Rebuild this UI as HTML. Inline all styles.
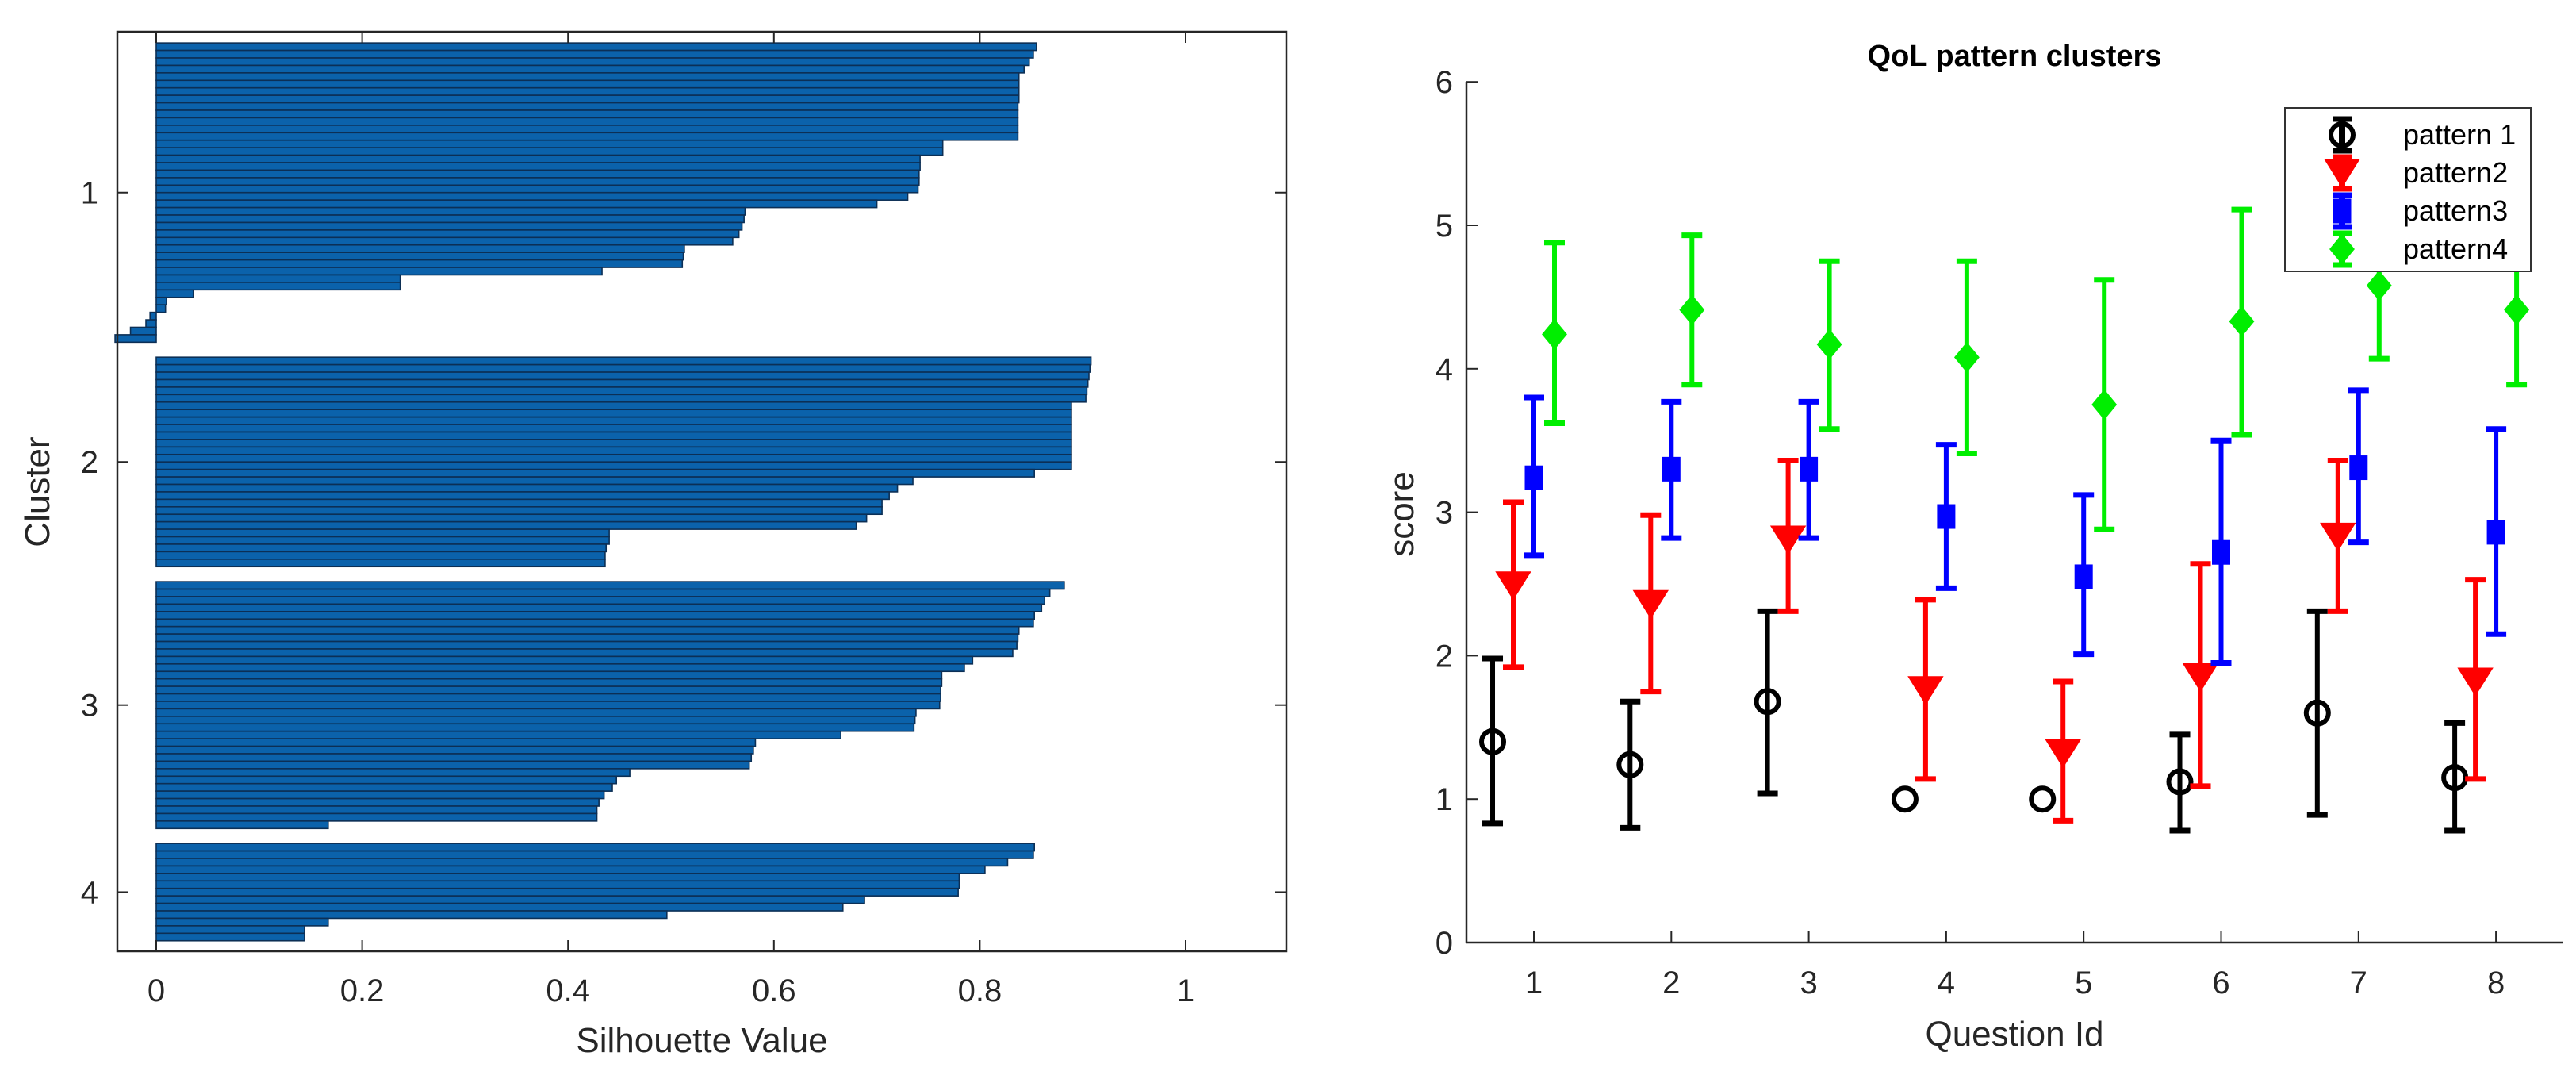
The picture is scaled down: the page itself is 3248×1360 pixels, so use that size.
<!DOCTYPE html>
<html><head><meta charset="utf-8"><style>
html,body{margin:0;padding:0;background:#fff;}
svg{display:block;font-family:"Liberation Sans",Arial,sans-serif;}
</style></head><body>
<svg id="chart" width="3248" height="1360" viewBox="0 0 3248 1360" xmlns="http://www.w3.org/2000/svg">
<g id="left"></g>
<g id="right"></g>
</svg>
<script>
// ---------- Silhouette data ----------
const cluster1 = [0.855,0.852,0.848,0.843,0.838,0.838,0.838,0.838,0.837,0.837,0.837,0.837,0.837,0.764,0.764,0.742,0.742,0.741,0.741,0.740,0.730,0.700,0.572,0.571,0.569,0.566,0.560,0.513,0.512,0.511,0.433,0.237,0.237,0.036,0.010,0.009,-0.006,-0.010,-0.025,-0.040];
const cluster2 = [0.908,0.907,0.906,0.905,0.904,0.903,0.889,0.889,0.889,0.889,0.889,0.889,0.889,0.889,0.889,0.853,0.735,0.720,0.712,0.705,0.705,0.690,0.680,0.440,0.440,0.437,0.436,0.436];
const cluster3 = [0.882,0.868,0.863,0.860,0.853,0.852,0.838,0.837,0.836,0.832,0.793,0.785,0.763,0.763,0.762,0.762,0.761,0.738,0.737,0.736,0.665,0.582,0.580,0.578,0.576,0.460,0.447,0.443,0.435,0.430,0.428,0.428,0.167];
const cluster4 = [0.853,0.852,0.827,0.805,0.780,0.780,0.779,0.688,0.667,0.496,0.167,0.144,0.144];
const clusterLabels = ["1","2","3","4"];
const silXTicks = [0,0.2,0.4,0.6,0.8,1];
const silXTickLabels = ["0","0.2","0.4","0.6","0.8","1"];

// ---------- QoL data ----------
const questions = [1,2,3,4,5,6,7,8];
const p1Mean = [1.40,1.24,1.68,1.00,1.00,1.12,1.60,1.15];
const p1Low  = [0.83,0.80,1.04,1.00,1.00,0.78,0.89,0.78];
const p1High = [1.98,1.68,2.31,1.00,1.00,1.45,2.31,1.53];
const p2Mean = [2.49,2.36,2.81,1.76,1.32,1.85,2.83,1.82];
const p2Low  = [1.92,1.75,2.31,1.14,0.85,1.09,2.31,1.14];
const p2High = [3.07,2.98,3.36,2.39,1.82,2.64,3.36,2.53];
const p3Mean = [3.24,3.30,3.30,2.97,2.55,2.72,3.31,2.86];
const p3Low  = [2.70,2.82,2.82,2.47,2.01,1.95,2.79,2.15];
const p3High = [3.80,3.77,3.77,3.47,3.12,3.50,3.85,3.58];
const p4Mean = [4.24,4.41,4.17,4.08,3.75,4.33,4.58,4.41];
const p4Low  = [3.62,3.89,3.58,3.41,2.88,3.54,4.07,3.89];
const p4High = [4.88,4.93,4.75,4.75,4.62,5.11,5.09,4.93];
const scoreTicks = [0,1,2,3,4,5,6];
const seriesNames = ["pattern 1","pattern2","pattern3","pattern4"];

const NS="http://www.w3.org/2000/svg";
function mk(tag,attrs,parent){const e=document.createElementNS(NS,tag);for(const k in attrs)e.setAttribute(k,attrs[k]);parent.appendChild(e);return e;}

// ===== Left plot =====
const L=document.getElementById('left');
const box={l:148,r:1622,t:40,b:1199};
const sx=v=>197+v*1298;
const pitch=9.43;
const clusters=[cluster1,cluster2,cluster3,cluster4];
let u=1.5;
const centers=[];
clusters.forEach((c,ci)=>{
  const start=u;
  c.forEach((v,i)=>{
    const y=box.t+(u+i)*pitch;
    const x0=Math.min(sx(0),sx(v)), w=Math.abs(sx(v)-sx(0));
    const r=mk('rect',{x:x0,y:y,width:Math.max(w,0.5),height:pitch,fill:'#0b62ab',stroke:'#0c2f55','stroke-width':1.6},L);
    
    
  });
  u+=c.length;
  centers.push(box.t+(start+c.length/2)*pitch);
  u+=2;
});
// box
const fr=mk('rect',{x:box.l,y:box.t,width:box.r-box.l,height:box.b-box.t,fill:'none',stroke:'#262626','stroke-width':2.5},L);

silXTicks.forEach((t,i)=>{
  const x=sx(t);
  mk('line',{x1:x,y1:box.b,x2:x,y2:box.b-14,stroke:'#262626','stroke-width':2},L);
  mk('line',{x1:x,y1:box.t,x2:x,y2:box.t+14,stroke:'#262626','stroke-width':2},L);
  const tx=mk('text',{x:x,y:1262,'text-anchor':'middle','font-size':40,fill:'#262626'},L);
  tx.textContent=silXTickLabels[i];
  
});
centers.forEach((cy,i)=>{
  mk('line',{x1:box.l,y1:cy,x2:box.l+14,y2:cy,stroke:'#262626','stroke-width':2},L);
  mk('line',{x1:box.r,y1:cy,x2:box.r-14,y2:cy,stroke:'#262626','stroke-width':2},L);
  const tx=mk('text',{x:124,y:cy+14,'text-anchor':'end','font-size':40,fill:'#262626'},L);
  tx.textContent=clusterLabels[i];
  
});
const xl=mk('text',{x:885,y:1326,'text-anchor':'middle','font-size':44,fill:'#262626'},L);
xl.textContent='Silhouette Value';
const yl=mk('text',{x:0,y:0,'text-anchor':'middle','font-size':44,fill:'#262626',transform:'translate(62,620) rotate(-90)'},L);
yl.textContent='Cluster';

// ===== Right plot =====
const R=document.getElementById('right');
const ax={l:1849,r:3232,t:103,b:1188};
const qx=v=>1934+(v-1)*173.3;
const qy=v=>1188-v*180.8;
mk('line',{x1:ax.l,y1:ax.t,x2:ax.l,y2:ax.b,stroke:'#262626','stroke-width':2.5},R);
mk('line',{x1:ax.l,y1:ax.b,x2:ax.r,y2:ax.b,stroke:'#262626','stroke-width':2.5},R);
scoreTicks.forEach(t=>{
  const y=qy(t);
  mk('line',{x1:ax.l,y1:y,x2:ax.l+14,y2:y,stroke:'#262626','stroke-width':2},R);
  const tx=mk('text',{x:1832,y:y+14,'text-anchor':'end','font-size':40,fill:'#262626'},R);
  tx.textContent=String(t);
  
});
questions.forEach(q=>{
  const x=qx(q);
  mk('line',{x1:x,y1:ax.b,x2:x,y2:ax.b-14,stroke:'#262626','stroke-width':2},R);
  const tx=mk('text',{x:x,y:1252,'text-anchor':'middle','font-size':40,fill:'#262626'},R);
  tx.textContent=String(q);
  
});
const tt=mk('text',{x:2540,y:83,'text-anchor':'middle','font-size':38,'font-weight':'bold',fill:'#000'},R);
tt.textContent='QoL pattern clusters';
const qxl=mk('text',{x:2540,y:1318,'text-anchor':'middle','font-size':44,fill:'#262626'},R);
qxl.textContent='Question Id';
const qyl=mk('text',{x:0,y:0,'text-anchor':'middle','font-size':44,fill:'#262626',transform:'translate(1782,648) rotate(-90)'},R);
qyl.textContent='score';

const colors=['#000000','#ff0000','#0000ff','#00ee00'];
const offsets=[-0.3,-0.15,0,0.15];
const means=[p1Mean,p2Mean,p3Mean,p4Mean],lows=[p1Low,p2Low,p3Low,p4Low],highs=[p1High,p2High,p3High,p4High];

function marker(s,cx,cy,g){
  const c=colors[s];
  if(s===0) return mk('circle',{cx:cx,cy:cy,r:14,fill:'none',stroke:c,'stroke-width':6},g);
  if(s===1) return mk('polygon',{points:`${cx-20},${cy-16} ${cx+20},${cy-16} ${cx},${cy+16}`,fill:c,stroke:c,'stroke-width':3},g);
  if(s===2) return mk('rect',{x:cx-10,y:cy-14,width:20,height:28,fill:c,stroke:c,'stroke-width':3},g);
  return mk('polygon',{points:`${cx},${cy-17} ${cx+14},${cy} ${cx},${cy+17} ${cx-14},${cy}`,fill:c,stroke:c,'stroke-width':3},g);
}
for(let s=0;s<4;s++){
  const g=mk('g',{},R);
  
  
  questions.forEach((q,i)=>{
    const x=qx(q+offsets[s]);
    const y0=qy(lows[s][i]),y1=qy(highs[s][i]);
    if(y0-y1>1){
      const el=mk('line',{x1:x,y1:y0,x2:x,y2:y1,stroke:colors[s],'stroke-width':6},g);
      
      
      mk('line',{x1:x-13,y1:y0,x2:x+13,y2:y0,stroke:colors[s],'stroke-width':7},g);
      mk('line',{x1:x-13,y1:y1,x2:x+13,y2:y1,stroke:colors[s],'stroke-width':7},g);
    }
    const m=marker(s,x,qy(means[s][i]),g);
    
    
  });
}
// legend
const lg=mk('g',{},R);


mk('rect',{x:2881,y:136,width:310,height:206,fill:'#fff',stroke:'#333','stroke-width':2},lg);
const ly=[170,218,266,314];
for(let s=0;s<4;s++){
  const e=mk('g',{},lg);
  
  
  mk('line',{x1:2953,y1:ly[s]-20,x2:2953,y2:ly[s]+20,stroke:colors[s],'stroke-width':8},e);
  mk('line',{x1:2941,y1:ly[s]-20,x2:2965,y2:ly[s]-20,stroke:colors[s],'stroke-width':7},e);
  mk('line',{x1:2941,y1:ly[s]+20,x2:2965,y2:ly[s]+20,stroke:colors[s],'stroke-width':7},e);
  marker(s,2953,ly[s],e);
  const t=mk('text',{x:3030,y:ly[s]+12,'font-size':36,fill:'#000'},e);
  t.textContent=seriesNames[s];
}
</script>
</body></html>
